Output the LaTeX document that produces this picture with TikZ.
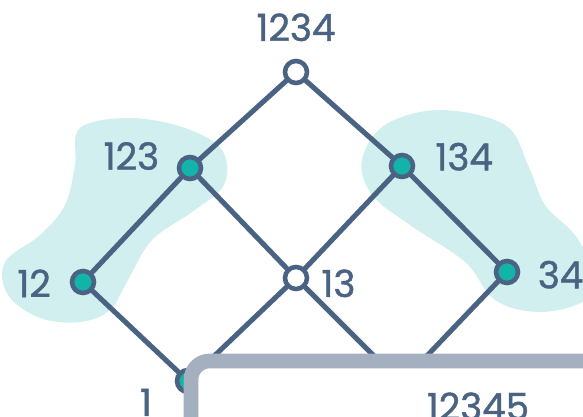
\documentclass[tikz,border=0pt]{standalone}
\usepackage{fontspec}
\setmainfont{Poppins}
\newfontfamily\handfont[FakeBold=1.2]{Poppins}
\usepackage{xcolor}
\usepackage{tikz}
\usetikzlibrary{positioning, calc}
\definecolor{inkblue}{HTML}{4A6382}
\definecolor{dotteal}{HTML}{12B3A8}
\definecolor{blobcyan}{HTML}{D1EFEF}
\definecolor{boxgray}{HTML}{A4AFBF}
\tikzstyle{dot} = [circle, draw=inkblue, line width=3.4pt, fill=dotteal, minimum size=16.5pt, inner sep=0pt]
\tikzstyle{hollow} = [dot, fill=white]
\tikzstyle{lab} = [text=inkblue, inner sep=0pt, font=\handfont\fontsize{28}{30}\selectfont]
\tikzstyle{edge} = [draw=inkblue, line width=3.8pt, line cap=round]

\begin{document}
\begin{tikzpicture}[x=0.75pt, y=-0.75pt]
    \useasboundingbox (0,0) rectangle (583,417);
    % Blobs
    \fill[blobcyan] plot[smooth cycle, tension=0.6] coordinates {(80,128) (130,118) (185,128) (222,150) (224,185) (192,212) (152,240) (128,280) (110,310) (80,322) (40,318) (8,295) (5,262) (40,235) (65,205) (75,165)};
    \fill[blobcyan] plot[smooth cycle, tension=0.6] coordinates {(385,125) (440,110) (505,125) (528,165) (545,205) (575,235) (592,270) (585,300) (540,312) (495,300) (465,262) (410,225) (372,195) (362,160)};
    
    % Lattice
    \node[hollow] (n1234) at (296,72) {};
    \node[dot] (n123) at (190,168) {};
    \node[dot] (n134) at (402,166) {};
    \node[dot] (n12) at (83,282) {};
    \node[hollow] (n13) at (296,278) {};
    \node[dot] (n34) at (507,272) {};
    \node[dot] (n1) at (188,381) {};
    \coordinate (n3) at (401,383);
    
    % Edges
    \draw[edge] (n1234) -- (n123);
    \draw[edge] (n1234) -- (n134);
    \draw[edge] (n123) -- (n12);
    \draw[edge] (n123) -- (n13);
    \draw[edge] (n134) -- (n13);
    \draw[edge] (n134) -- (n34);
    \draw[edge] (n12) -- (n1);
    \draw[edge] (n13) -- (n1);
    \draw[edge] (n13) -- (n3);
    \draw[edge] (n34) -- (n3);
    
    % Labels
    \node[lab, above=13pt of n1234] (l1234) {1234};
    \node[lab, left=13pt of n123, yshift=9pt] (l123) {123};
    \node[lab, right=15pt of n134, yshift=7pt] (l134) {134};
    \node[lab, left=14pt of n12, yshift=-1pt] (l12) {12};
    \node[lab, right=9pt of n13, yshift=-4pt] (l13) {13};
    \node[lab, right=13pt of n34, yshift=-2pt] (l34) {34};
    \node[lab, left=17pt of n1, yshift=-16pt] (l1) {1};
    
    % Box
    \draw[boxgray, line width=11pt, fill=white, rounded corners=14pt] (191,361) rectangle (640,470);
    \node[lab, anchor=base] (l12345) at (478,420) {12345};
\end{tikzpicture}
\end{document}
